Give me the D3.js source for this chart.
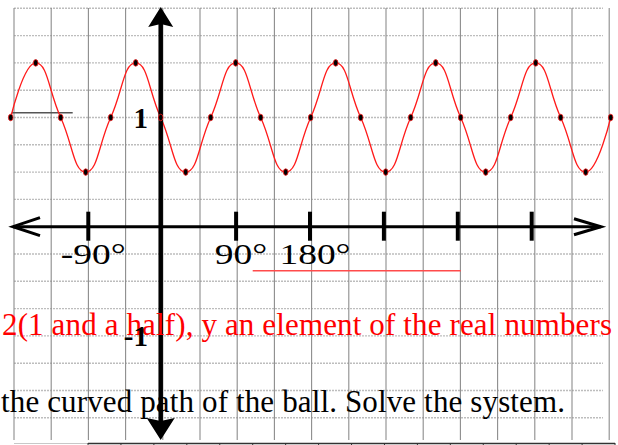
<!DOCTYPE html>
<html>
<head>
<meta charset="utf-8">
<script src="https://cdn.jsdelivr.net/npm/d3@7"></script>
<style>
  body { margin: 0; background: #fff; }
  svg { display: block; }
</style>
</head>
<body>
<div id="graph"></div>
<script>
// curve points, in curve degrees (one dot every quarter turn)
var curveX = [-540, -450, -360, -270, -180, -90, 0, 90, 180, 270, 360, 450, 540,
              630, 720, 810, 900, 990, 1080, 1170, 1260, 1350, 1440, 1530, 1620];
var curveY = [0, 1, 0, -1, 0, 1, 0, -1, 0, 1, 0, -1, 0,
              1, 0, -1, 0, 1, 0, -1, 0, 1, 0, -1, 0];

// x axis ticks
var tickDeg = [-90, 90, 180, 270, 360, 450];
var tickLabels = ["-90°", "90°", "180°", "", "", ""];

// y axis labels
var yValues = [1, -1];
var yLabels = ["1", "-1"];

// text lines
var redLine = "2(1 and a half), y an element of the real numbers";
var blackLine = "the curved path of the ball. Solve the system.";

var svgWidth = 618;
var svgHeight = 445;
var serif = "'Liberation Serif', 'Times New Roman', serif";

var svg = d3.select("#graph")
  .append("svg")
  .attr("width", svgWidth)
  .attr("height", svgHeight)
  .style("background", "#fff");

// Scales
var gridX = d3.scaleLinear().domain([0, 16]).range([14, 609.2]);
var gridY = d3.scaleLinear().domain([0, 15]).range([8.3, 417.8]);

var xDeg = d3.scaleLinear().domain([-90, 450]).range([88.3, 531.7]);
var yAxisScale = d3.scaleLinear().domain([-1, 1]).range([335.9, 117.5]);

var xCurve = d3.scaleLinear().domain([0, 90]).range([160.7, 185.7]);
var yCurve = d3.scaleLinear().domain([-1, 1]).range([172.1, 62.9]);

var axisX = 160.7;
var axisY = yAxisScale(0);

// Graph paper
svg.append("g")
  .selectAll("line")
  .data(d3.range(16))
  .enter()
  .append("line")
  .attr("x1", gridX(0))
  .attr("x2", 603)
  .attr("y1", d => gridY(d))
  .attr("y2", d => gridY(d))
  .attr("stroke", "#bdbdbd")
  .attr("stroke-width", 1.4)
  .attr("stroke-dasharray", "2,1");

svg.append("g")
  .selectAll("line")
  .data(d3.range(17))
  .enter()
  .append("line")
  .attr("x1", d => gridX(d))
  .attr("x2", d => gridX(d))
  .attr("y1", 8)
  .attr("y2", 440)
  .attr("stroke", "#8c8c8c")
  .attr("stroke-width", 1.1);

// table edge at the bottom
svg.append("line")
  .attr("x1", 14).attr("x2", 88)
  .attr("y1", 443.5).attr("y2", 443.5)
  .attr("stroke", "#c8c8c8").attr("stroke-width", 1.2);
svg.append("line")
  .attr("x1", 88).attr("x2", 615)
  .attr("y1", 443.5).attr("y2", 443.5)
  .attr("stroke", "#333").attr("stroke-width", 1.4);
svg.append("g")
  .selectAll("line")
  .data(d3.range(17))
  .enter()
  .append("line")
  .attr("x1", d => 88 + d * 32.94)
  .attr("x2", d => 88 + d * 32.94)
  .attr("y1", 443)
  .attr("y2", 445)
  .attr("stroke", "#333")
  .attr("stroke-width", 1);

// short grey stroke on the left
svg.append("line")
  .attr("x1", 11.7).attr("x2", 72.7)
  .attr("y1", 112.7).attr("y2", 112.7)
  .attr("stroke", "#555").attr("stroke-width", 1.5);

// Curve
var points = curveX.map((d, i) => [d, curveY[i]]);

var line = d3.line()
  .x(d => xCurve(d[0]))
  .y(d => yCurve(d[1]))
  .curve(d3.curveCardinal.tension(-0.45));

svg.append("path")
  .datum(points)
  .attr("d", line)
  .attr("fill", "none")
  .attr("stroke", "#ff1a1a")
  .attr("stroke-width", 1.3);

// x axis
svg.append("line")
  .attr("x1", 13).attr("x2", 601)
  .attr("y1", axisY).attr("y2", axisY)
  .attr("stroke", "#000").attr("stroke-width", 3);

svg.append("polyline")
  .attr("points", `40,${axisY - 9} 13,${axisY} 40,${axisY + 9}`)
  .attr("fill", "none").attr("stroke", "#000").attr("stroke-width", 3);
svg.append("polyline")
  .attr("points", `574,${axisY - 8} 601,${axisY} 574,${axisY + 8}`)
  .attr("fill", "none").attr("stroke", "#000").attr("stroke-width", 3);

svg.append("g")
  .selectAll("line")
  .data(tickDeg)
  .enter()
  .append("line")
  .attr("x1", d => xDeg(d))
  .attr("x2", d => xDeg(d))
  .attr("y1", axisY - 15)
  .attr("y2", axisY + 14)
  .attr("stroke", "#000")
  .attr("stroke-width", 4);

// y axis
svg.append("line")
  .attr("x1", axisX).attr("x2", axisX)
  .attr("y1", 22).attr("y2", 424)
  .attr("stroke", "#000").attr("stroke-width", 4.5);

svg.append("path")
  .attr("d", `M${axisX},7 L${axisX + 12.5},27 L${axisX},24 L${axisX - 12.5},27 Z`)
  .attr("fill", "#000");
svg.append("path")
  .attr("d", `M${axisX},440 L${axisX + 14},418 L${axisX},421 L${axisX - 14},418 Z`)
  .attr("fill", "#000");

// Dots on the curve
svg.append("g")
  .selectAll("ellipse")
  .data(points)
  .enter()
  .append("ellipse")
  .attr("cx", d => xCurve(d[0]))
  .attr("cy", d => yCurve(d[1]))
  .attr("rx", 2.3)
  .attr("ry", 3.3)
  .attr("fill", "#000")
  .attr("stroke", "#ff1a1a")
  .attr("stroke-width", 0.8);

// Tick labels
svg.append("g")
  .selectAll("g")
  .data(tickDeg)
  .enter()
  .append("g")
  .attr("transform", d => `translate(${xDeg(d) + 5}, 264) scale(1.25, 1)`)
  .append("text")
  .attr("text-anchor", "middle")
  .attr("font-family", serif)
  .attr("font-size", "30px")
  .attr("fill", "#000")
  .text((d, i) => tickLabels[i]);

// Red line of text
svg.append("text")
  .attr("x", 2)
  .attr("y", 335)
  .attr("font-family", serif)
  .attr("font-size", "31px")
  .attr("fill", "#ff0000")
  .attr("textLength", 610)
  .attr("lengthAdjust", "spacing")
  .text(redLine);

// y labels
svg.append("g")
  .selectAll("text")
  .data(yValues)
  .enter()
  .append("text")
  .attr("x", 148)
  .attr("y", d => yAxisScale(d) + 10)
  .attr("text-anchor", "end")
  .attr("font-family", serif)
  .attr("font-size", "29px")
  .attr("font-weight", "bold")
  .attr("fill", "#000")
  .text((d, i) => yLabels[i]);

// red underline
svg.append("line")
  .attr("x1", 252.7).attr("x2", 460.7)
  .attr("y1", 270.7).attr("y2", 270.7)
  .attr("stroke", "#ff4b4b").attr("stroke-width", 1.4);

// Black line of text
svg.append("text")
  .attr("x", 1)
  .attr("y", 411.7)
  .attr("font-family", serif)
  .attr("font-size", "31px")
  .attr("fill", "#000")
  .attr("textLength", 564)
  .attr("lengthAdjust", "spacing")
  .text(blackLine);
</script>
</body>
</html>
